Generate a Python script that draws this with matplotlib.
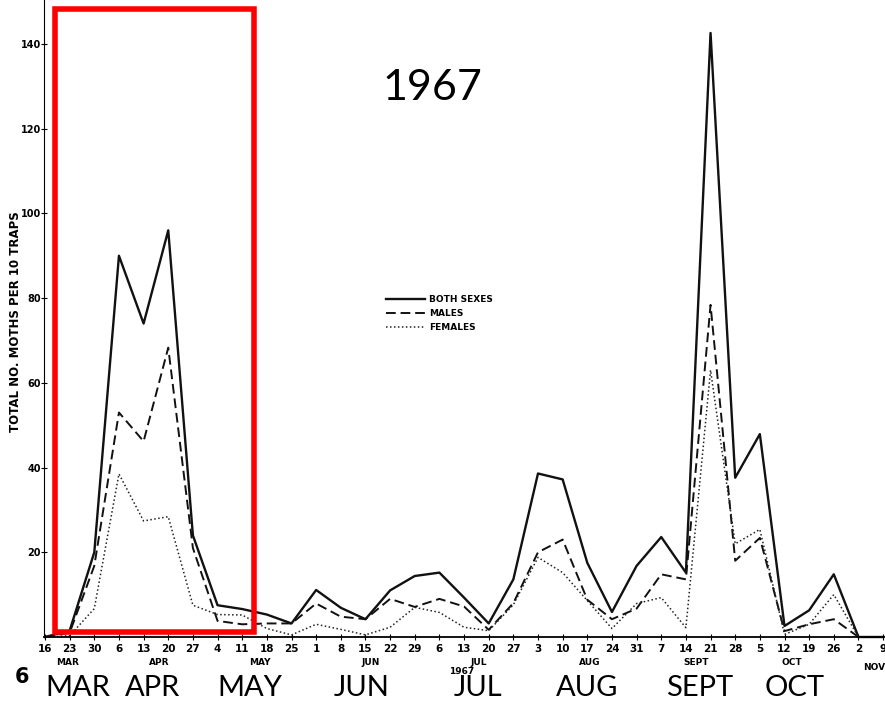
import matplotlib.pyplot as plt
from matplotlib.patches import Rectangle

# week ticks, Mar 16 1967 -> Nov 9 1967
days = ["16", "23", "30", "6", "13", "20", "27", "4", "11", "18", "25",
        "1", "8", "15", "22", "29", "6", "13", "20", "27", "3", "10", "17",
        "24", "31", "7", "14", "21", "28", "5", "12", "19", "26", "2", "9"]

# moths per 10 traps
both = [0, 1.5, 20, 90, 74, 96, 24, 7.5, 6.6, 5.3, 3.2, 11.1, 6.9, 4.2,
        11, 14.4, 15.2, 9.3, 3.2, 13.6, 38.6, 37.2, 17.5, 5.9, 16.8, 23.6,
        15.2, 142.6, 37.6, 47.9, 2.6, 6.3, 14.8, 0, 0]
males = [0, 1, 16.8, 53, 46.2, 68.3, 21, 3.8, 3, 3.2, 3.2, 7.9, 4.8, 4.2,
         9, 7.1, 9, 7.2, 1.7, 8, 20, 23, 8.8, 4.2, 6.7, 14.8,
         13.6, 78.4, 18, 23.4, 1.4, 3, 4.2, 0, 0]
females = [0, 0.3, 6.7, 38.5, 27.4, 28.4, 7.5, 5.3, 5.2, 2, 0.5, 3, 1.8, 0.5,
           2.3, 7, 5.8, 2.3, 1.5, 7.6, 18.8, 15.2, 8.6, 2, 7.9, 9.3,
           2.2, 63, 22, 25.4, 0.6, 3, 10, 0, 0]

months_small = ["MAR", "APR", "MAY", "JUN", "JUL", "AUG", "SEPT", "OCT", "NOV"]
months_big = ["MAR", "APR", "MAY", "JUN", "JUL", "AUG", "SEPT", "OCT"]

W, H = 885, 701
fig = plt.figure(figsize=(W / 100, H / 100), dpi=100)
# pixel layout: x=0 at 45px, 24.65px per week; y=0 at 637px, 4.236px per unit
ax = fig.add_axes([44 / W, (H - 637) / H, 1 - 44 / W, 637 / H])
ax.set_xlim(-1 / 24.65, (W - 45) / 24.65)
ax.set_ylim(0, 637 / 4.236)

x = list(range(len(days)))
ax.plot(x, both, color="#111111", lw=1.7, label="BOTH SEXES", clip_on=False)
ax.plot(x, males, color="#111111", lw=1.4, dashes=(5, 2.5), label="MALES", clip_on=False)
ax.plot(x, females, color="#222222", lw=1.1, dashes=(1, 1.6), label="FEMALES", clip_on=False)

small = dict(family="DejaVu Sans", fontweight="bold", fontsize=7.5)

ax.spines["top"].set_visible(False)
ax.spines["right"].set_visible(False)
ax.spines["bottom"].set_linewidth(1.3)
ax.spines["left"].set_linewidth(0.8)
ax.set_xticks(x)
ax.set_xticklabels(days, **small)
ax.set_yticks([20, 40, 60, 80, 100, 120, 140])
ax.set_yticklabels(["20", "40", "60", "80", "100", "120", "140"],
                   family="DejaVu Sans", fontweight="bold", fontsize=7)
ax.tick_params(axis="x", direction="inout", length=4, pad=3, width=0.8)
ax.tick_params(axis="y", direction="inout", length=4, pad=0, width=0.8)

ax.set_ylabel("TOTAL NO. MOTHS PER 10 TRAPS", family="DejaVu Sans",
              fontweight="bold", fontsize=8.5)
ax.yaxis.set_label_coords(-22 / (W - 44), (637 - 322) / 637)

# small month names under the day ticks
month_pos = [0.9, 4.65, 8.7, 13.2, 17.6, 22.1, 26.4, 30.3]
for m, p in zip(months_small[:-1], month_pos):
    ax.text(p, -6.0, m, ha="center", va="center", clip_on=False,
            family="DejaVu Sans", fontweight="bold", fontsize=6.5)
ax.text(1.0, -7.2, months_small[-1], transform=ax.get_yaxis_transform(),
        ha="right", va="center", clip_on=False,
        family="DejaVu Sans", fontweight="bold", fontsize=6.5)

leg = ax.legend(loc="upper left", bbox_to_anchor=(378 / W, 1 - 287 / H),
                bbox_transform=fig.transFigure, frameon=False,
                handlelength=4.3, handletextpad=0.5, labelspacing=0.55,
                prop=dict(family="DejaVu Sans", weight="bold", size=6.5))

def ftext(px, py, s, **kw):
    fig.text(px / W, 1 - py / H, s, ha="center", va="center", **kw)

ftext(462, 672, "1967", family="DejaVu Sans", fontweight="bold", fontsize=6.5)
ftext(22, 677, "6", family="DejaVu Sans", fontweight="bold", fontsize=15)
ftext(432, 88, "1967", family="Lato", fontsize=31)

big_pos = [78, 153, 250, 362, 478, 587, 700, 795]
for m, p in zip(months_big, big_pos):
    ftext(p, 688, m, family="Lato", fontsize=21)

fig.patches.append(Rectangle((54.5 / W, (H - 632) / H), 199.5 / W, 623 / H,
                             transform=fig.transFigure, fill=False,
                             edgecolor="#ff0000", linewidth=4.0))

fig.savefig("out.png", dpi=100)
